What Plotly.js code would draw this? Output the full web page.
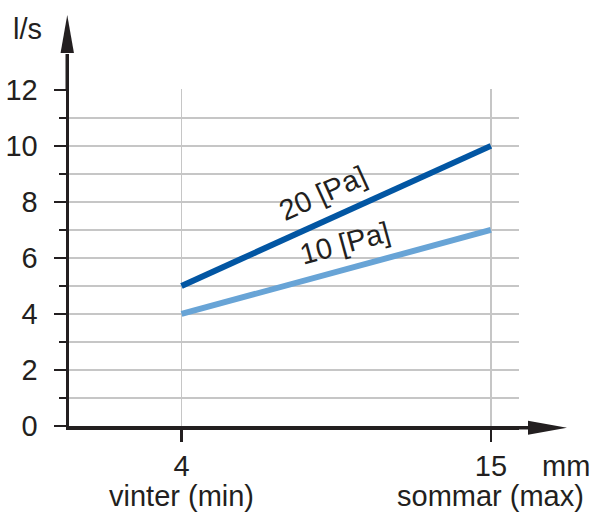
<!DOCTYPE html>
<html>
<head>
<meta charset="utf-8">
<script src="https://cdn.plot.ly/plotly-3.0.1.min.js"></script>
<style>html,body{margin:0;padding:0;background:#fff;}#chart{width:595px;height:513px;}</style>
</head>
<body>
<div id="chart"></div>
<script>
// Data
const xPositions = [4, 15];
const xTickLabels = ['4', '15'];
const xSubLabels = ['vinter (min)', 'sommar (max)'];
const series20Name = '20 [Pa]';
const series20 = [5, 10];
const series10Name = '10 [Pa]';
const series10 = [4, 7];
const yMajorTicks = [0, 2, 4, 6, 8, 10, 12];
const yMinorTicks = [1, 3, 5, 7, 9, 11];
const yUnit = 'l/s';
const xUnit = 'mm';

const ink = '#231f20';
const grid = '#c6c6c6';
const font = 'Liberation Sans, Arial, Helvetica, sans-serif';
const FS = 29;

const W = 595, H = 513;
const M = {l: 69, r: 76, t: 89, b: 87};
const PW = W - M.l - M.r, PH = H - M.t - M.b;
// pixel -> paper helpers (for decoration only)
const px = p => (p - M.l) / PW;
const py = p => (H - M.b - p) / PH;

const traces = [
  {x: xPositions, y: series10, mode: 'lines', line: {color: '#68a4d6', width: 6}, name: series10Name, hoverinfo: 'skip'},
  {x: xPositions, y: series20, mode: 'lines', line: {color: '#0256a3', width: 6}, name: series20Name, hoverinfo: 'skip'}
];

const lw = 3.5;
const yLineX = px(M.l - lw / 2);
const xLineY = py(H - M.b + lw / 2);

const shapes = [
  // y axis extension + arrow
  {type: 'line', xref: 'paper', yref: 'paper', x0: yLineX, x1: yLineX, y0: 1, y1: py(54), line: {color: ink, width: lw}},
  {type: 'path', xref: 'paper', yref: 'paper', fillcolor: ink, line: {width: 0},
   path: `M ${px(M.l - lw/2 - 6.7)},${py(53)} L ${px(M.l - lw/2 + 6.7)},${py(53)} L ${yLineX},${py(15)} Z`},
  // x axis extension + arrow
  {type: 'line', xref: 'paper', yref: 'paper', x0: 1, x1: px(529), y0: xLineY, y1: xLineY, line: {color: ink, width: lw}},
  {type: 'path', xref: 'paper', yref: 'paper', fillcolor: ink, line: {width: 0},
   path: `M ${px(528)},${py(H - M.b + lw/2 - 7)} L ${px(528)},${py(H - M.b + lw/2 + 7)} L ${px(567)},${xLineY} Z`}
];

const annFont = {family: font, size: FS, color: ink};
const A = {showarrow: false, font: annFont, xanchor: 'center', yanchor: 'middle'};
const annotations = [
  Object.assign({xref: 'paper', yref: 'paper', x: px(27), y: py(29), text: yUnit}, A),
  Object.assign({xref: 'paper', yref: 'paper', x: px(566), y: py(466), text: xUnit}, A),
  Object.assign({xref: 'x', yref: 'paper', x: xPositions[0], y: py(496), text: xSubLabels[0]}, A),
  Object.assign({xref: 'x', yref: 'paper', x: xPositions[1], y: py(496), text: xSubLabels[1]}, A),
  Object.assign({xref: 'x', yref: 'y', x: 9.03, y: 8.3, text: series20Name,
   textangle: -Math.atan((series20[1]-series20[0])/(xPositions[1]-xPositions[0])) * 180 / Math.PI}, A),
  Object.assign({xref: 'x', yref: 'y', x: 9.81, y: 6.52, text: series10Name,
   textangle: -Math.atan((series10[1]-series10[0])/(xPositions[1]-xPositions[0])) * 180 / Math.PI}, A)
];

const layout = {
  width: W, height: H,
  margin: M,
  paper_bgcolor: '#fff', plot_bgcolor: '#fff',
  showlegend: false,
  font: {family: font, color: ink, size: FS},
  xaxis: {
    range: [0, 16], fixedrange: true,
    tickvals: xPositions, ticktext: xTickLabels,
    showgrid: true, gridcolor: grid, gridwidth: 1.3,
    zeroline: false, showline: true, linecolor: ink, linewidth: lw,
    ticks: 'outside', ticklen: 12, tickwidth: 2.5, tickcolor: ink,
    tickfont: {family: font, size: FS, color: ink}, ticklabelstandoff: 0
  },
  yaxis: {
    range: [0, 12.03], fixedrange: true,
    tickvals: yMajorTicks,
    showgrid: true, gridcolor: grid, gridwidth: 1.3,
    zeroline: false, showline: true, linecolor: ink, linewidth: lw,
    ticks: 'outside', ticklen: 12, tickwidth: 2.5, tickcolor: ink,
    tickfont: {family: font, size: FS, color: ink}, ticklabelstandoff: 10,
    minor: {tickvals: yMinorTicks, ticks: 'outside', ticklen: 7, tickwidth: 2.5, tickcolor: ink,
            showgrid: true, gridcolor: grid, gridwidth: 1.3}
  },
  shapes: shapes,
  annotations: annotations
};

Plotly.newPlot('chart', traces, layout, {staticPlot: true, displayModeBar: false});
</script>
</body>
</html>
